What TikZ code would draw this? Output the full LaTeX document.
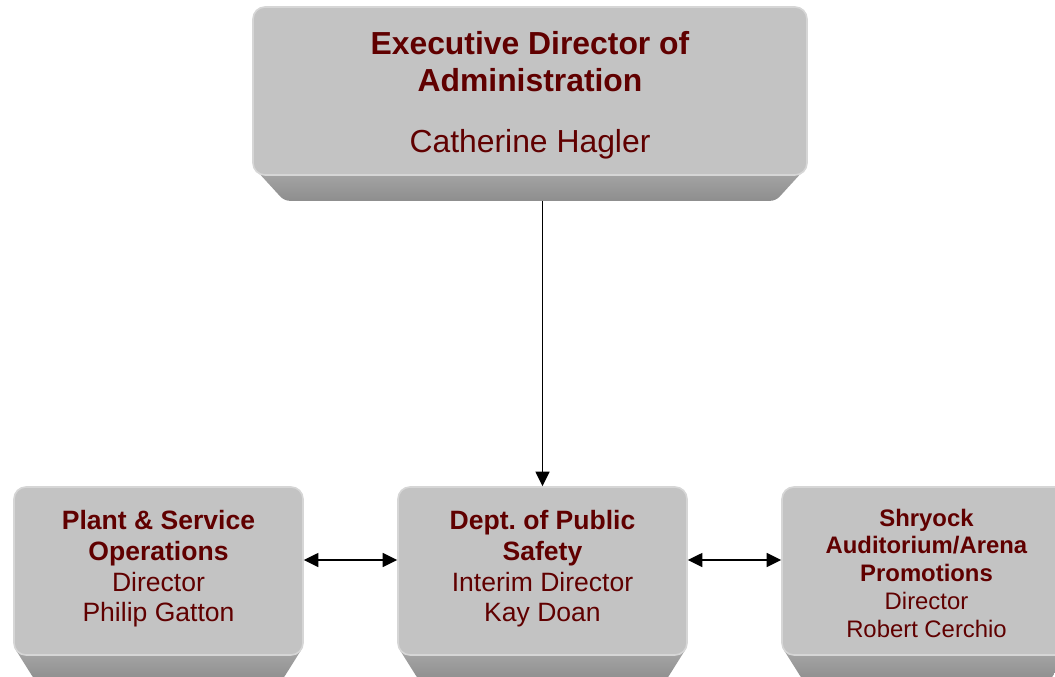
\documentclass[tikz,border=0pt]{standalone}
\usepackage{fontspec}
\setmainfont{Liberation Sans}
\usetikzlibrary{calc,arrows.meta,backgrounds}
\definecolor{facegray}{RGB}{195,195,195}
\definecolor{rimgray}{RGB}{214,214,214}
\definecolor{bevtop}{RGB}{170,170,170}
\definecolor{bevbot}{RGB}{142,142,142}
\definecolor{maroon}{RGB}{96,0,0}
\tikzset{
  face/.style={fill=facegray, draw=rimgray, line width=1.2pt,
    rounded corners=9pt, inner sep=0pt,
    minimum height=168*0.75pt},
  txt/.style={text=maroon, align=center, inner sep=0pt},
  bigtxt/.style={txt, font=\fontsize{23.9}{27.75}\selectfont},
  midtxt/.style={txt, font=\fontsize{19.9}{23}\selectfont},
  smalltxt/.style={txt, font=\fontsize{17.9}{20.8}\selectfont},
  bevelfill/.style={top color=bevtop, bottom color=bevbot, rounded corners=4pt},
  link/.style={line width=1.3pt, -{Triangle[length=11pt,width=10.5pt]}},
  dlink/.style={line width=1.3pt, {Triangle[length=11pt,width=10.5pt]}-{Triangle[length=11pt,width=10.5pt]}},
}
\begin{document}
\frenchspacing
\begin{tikzpicture}[x=0.75pt, y=-0.75pt]
\useasboundingbox (0,0) rectangle (1055,677);
\clip (0,0) rectangle (1055,677);

% box faces (coordinates in pixels, y downwards)
\node[face, minimum width=554*0.75pt] (exec)  at (530,91)    {};
\node[face, minimum width=289*0.75pt] (plant) at (158.5,571) {};
\node[face, minimum width=289*0.75pt] (dps)   at (542.5,571) {};
\node[face, minimum width=289*0.75pt] (arena) at (926.5,571) {};

% bevelled lower edges, behind the faces
\begin{scope}[on background layer]
\foreach \b/\d/\i in {exec/25/32, plant/25/22, dps/25/22, arena/25/22}{
  \path[bevelfill] ($(\b.south west)+(0,-10)$) -- ($(\b.south west)+(\i,\d)$)
    -- ($(\b.south east)+(-\i,\d)$) -- ($(\b.south east)+(0,-10)$) -- cycle;
}
\end{scope}

% texts
\node[bigtxt] (exect) at (530,95)
  {\textbf{Executive Director of}\\\textbf{Administration}\\[18pt]Catherine Hagler};
\node[midtxt] (plantt) at (158.5,569)
  {\textbf{Plant \& Service}\\\textbf{Operations}\\Director\\Philip Gatton};
\node[midtxt] (dpst) at (542.5,569)
  {\textbf{Dept. of Public}\\\textbf{Safety}\\Interim Director\\Kay Doan};
\node[smalltxt] (arenat) at (926.5,573)
  {\textbf{Shryock}\\\textbf{Auditorium/Arena}\\\textbf{Promotions}\\Director\\Robert Cerchio};

% connectors
\coordinate (execbase) at ($(exec.south)+(0,25)$);
\draw[link] (execbase -| dps.north) -- (dps.north);
\draw[dlink] ([yshift=8.25pt]plant.east) -- ([yshift=8.25pt]dps.west);
\draw[dlink] ([yshift=8.25pt]dps.east) -- ([yshift=8.25pt]arena.west);
\end{tikzpicture}
\end{document}
